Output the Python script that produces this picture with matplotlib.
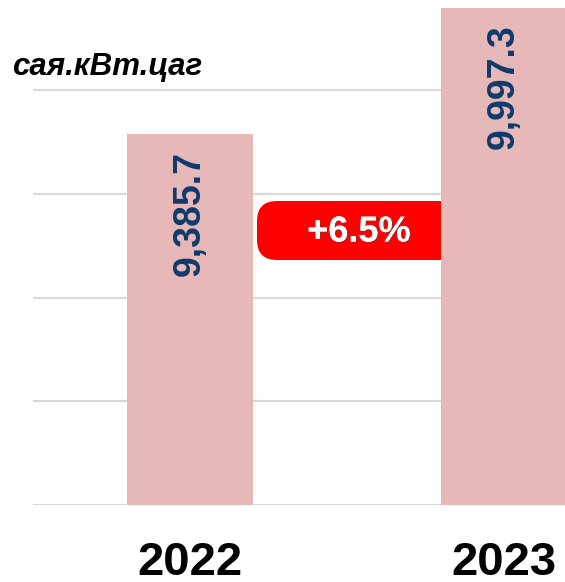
import matplotlib
matplotlib.use('Agg')
import matplotlib.pyplot as plt
import matplotlib.patheffects as pe
from matplotlib.patches import FancyBboxPatch
from matplotlib.transforms import IdentityTransform

years = ['2022', '2023']
values = [9385.7, 9997.3]
value_labels = ['9,385.7', '9,997.3']
growth_label = '+6.5%'
unit_label = 'сая.кВт.цаг'

W, H = 565, 582
bar_color = '#e6b8b7'
value_color = '#0e3a6b'

plt.rcParams['font.family'] = ['Liberation Sans', 'DejaVu Sans']

fig = plt.figure(figsize=(W / 100, H / 100), dpi=100)
# axes: left edge of gridlines at 33px, baseline at 505px, top at 0px
ax = fig.add_axes([33 / W, 1 - 505 / H, 1 - 33 / W, 505 / H])

x = list(range(len(years)))
ax.bar(x, values, width=0.40, color=bar_color, zorder=3)

ax.set_xlim(-0.5, 1.194)
ax.set_ylim(7600, 7600 + 505 / 103.75 * 500)
ax.set_yticks([7600, 8100, 8600, 9100, 9600])
ax.yaxis.grid(True, color='#d9d9d9', linewidth=1.6, zorder=0)
ax.set_axisbelow(True)
ax.set_xticks([])
ax.tick_params(left=False, labelleft=False)
for s in ax.spines.values():
    s.set_visible(False)

# values inside bars, rotated
for xi, v, lab in zip(x, values, value_labels):
    ax.annotate(lab, (xi, v), xytext=(0, -12), textcoords='offset points',
                rotation=90, ha='center', va='top', fontsize=27,
                fontweight='bold', color=value_color, zorder=5)

# year labels below the bars
for xi, lab in zip(x, years):
    ax.annotate(lab, (xi, 7600), xytext=(0, -41.5), textcoords='offset points',
                ha='center', va='center', fontsize=34, fontweight='bold',
                color='black', annotation_clip=False)

# unit label
fig.text(12 / W, 1 - 75 / H, unit_label, fontsize=22.5, fontweight='bold',
         style='italic', ha='left', va='baseline')

# growth badge (display pixel coords, y from bottom)
badge = FancyBboxPatch((275, H - 242), 190, 23,
                       boxstyle='round,pad=18,rounding_size=20',
                       transform=IdentityTransform(), facecolor='#ff0000',
                       edgecolor='none', zorder=2)
ax.add_patch(badge)
badge.set_clip_on(False)
fig.text(359 / W, 1 - 232 / H, growth_label, fontsize=26, fontweight='bold',
         color='white', ha='center', va='center', zorder=6,
         path_effects=[pe.withSimplePatchShadow(offset=(1, -1), alpha=0.4),
                       pe.Normal()])

fig.savefig('out.png', dpi=100)
